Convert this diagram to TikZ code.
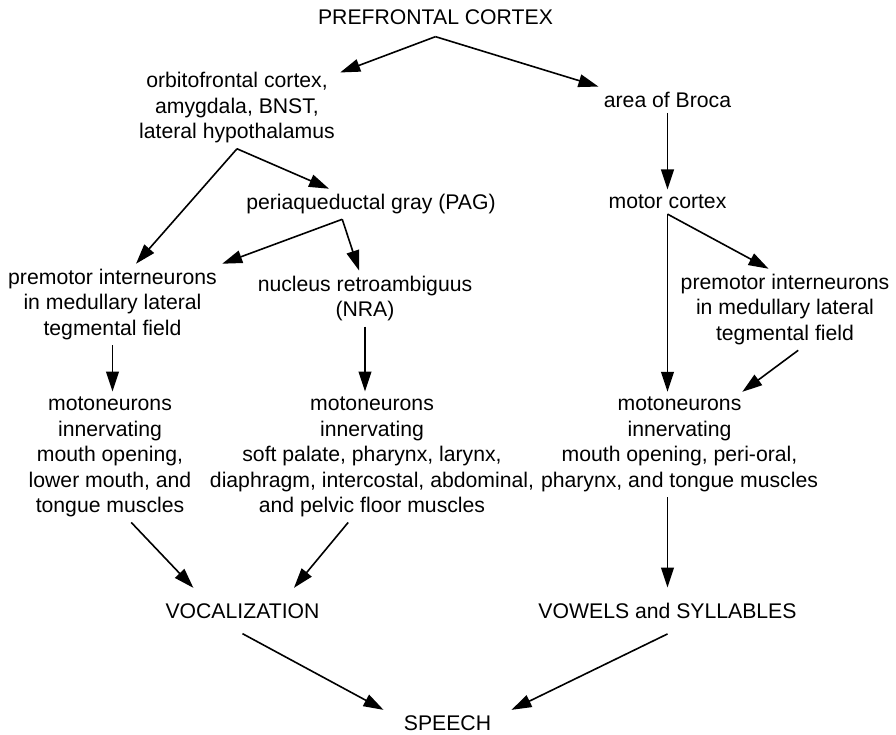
\documentclass[tikz,border=0pt]{standalone}
\usepackage{fontspec}
\setmainfont{Liberation Sans}
\usetikzlibrary{arrows.meta}
\begin{document}
\begin{tikzpicture}[x=0.5pt, y=-0.5pt, >={Triangle[length=10pt,width=6.4pt]},
    every node/.style={align=center, inner sep=2.5pt, font=\fontsize{10.6}{12.75}\selectfont}]
    \useasboundingbox (0,0) rectangle (896,735);
    \node (pfc) at (435.5,16.75) [inner ysep=6pt] {PREFRONTAL CORTEX};
    \node (ofc) at (237,108) {orbitofrontal cortex,\\ amygdala, BNST,\\ lateral hypothalamus};
    \node (broca) at (667.5,99.75) {area of Broca};
    \node (pag) at (371,204) {periaqueductal gray (PAG)};
    \node (motor) at (667.5,201.75) {motor cortex};
    \node (premL) at (112.5,304.5) {premotor interneurons\\ in medullary lateral\\ tegmental field};
    \node (nra) at (365,298.5) {nucleus retroambiguus\\ (NRA)};
    \node (premR) at (785,309.5) {premotor interneurons\\ in medullary lateral\\ tegmental field};
    \node (motoL) at (110,457) {motoneurons\\ innervating\\ mouth opening,\\ lower mouth, and\\ tongue muscles};
    \node (motoM) at (372,457) {motoneurons\\ innervating\\ soft palate, pharynx, larynx,\\ diaphragm, intercostal, abdominal,\\ and pelvic floor muscles};
    \node (motoR) at (679.5,444.5) {motoneurons\\ innervating\\ mouth opening, peri-oral,\\ pharynx, and tongue muscles};
    \node (voc) at (242.5,610.75) [inner ysep=7.5pt] {VOCALIZATION};
    \node (vow) at (667.5,610.75) [inner ysep=7.5pt] {VOWELS and SYLLABLES};
    \node (speech) at (447.5,722.75) [inner xsep=10pt] {SPEECH};

    \draw[->, thick] (pfc.south) -- (ofc.19);
    \draw[->, thick] (pfc.south) -- (broca.north west);
    \draw[->, thick] (broca) -- (motor);
    \draw[->, thick] (ofc.south) -- (premL.60);
    \draw[->, thick] (ofc.south) -- (pag.160);
    \draw[->, thick] (pag.208) -- (premL.north east);
    \draw[->, thick] (pag.208) -- (nra.102);
    \draw[->, thick] (motor.south) -- (premR.112);
    \draw[->, thick] (motor.south) -- (motor.south |- motoR.north);
    \draw[->, thick] (premL.south) -- (premL.south |- motoL.north);
    \draw[->, thick] (nra.south) -- (nra.south |- motoM.north);
    \draw[->, thick] (premR.-72) -- (motoR.40);
    \draw[->, thick] (motoL.-72) -- (voc.155);
    \draw[->, thick] (motoM.-110) -- (voc.24);
    \draw[->, thick] (vow.north |- motoR.south) -- (vow.north);
    \draw[->, thick] (voc.south) -- (speech.north west);
    \draw[->, thick] (vow.south) -- (speech.north east);
\end{tikzpicture}
\end{document}
